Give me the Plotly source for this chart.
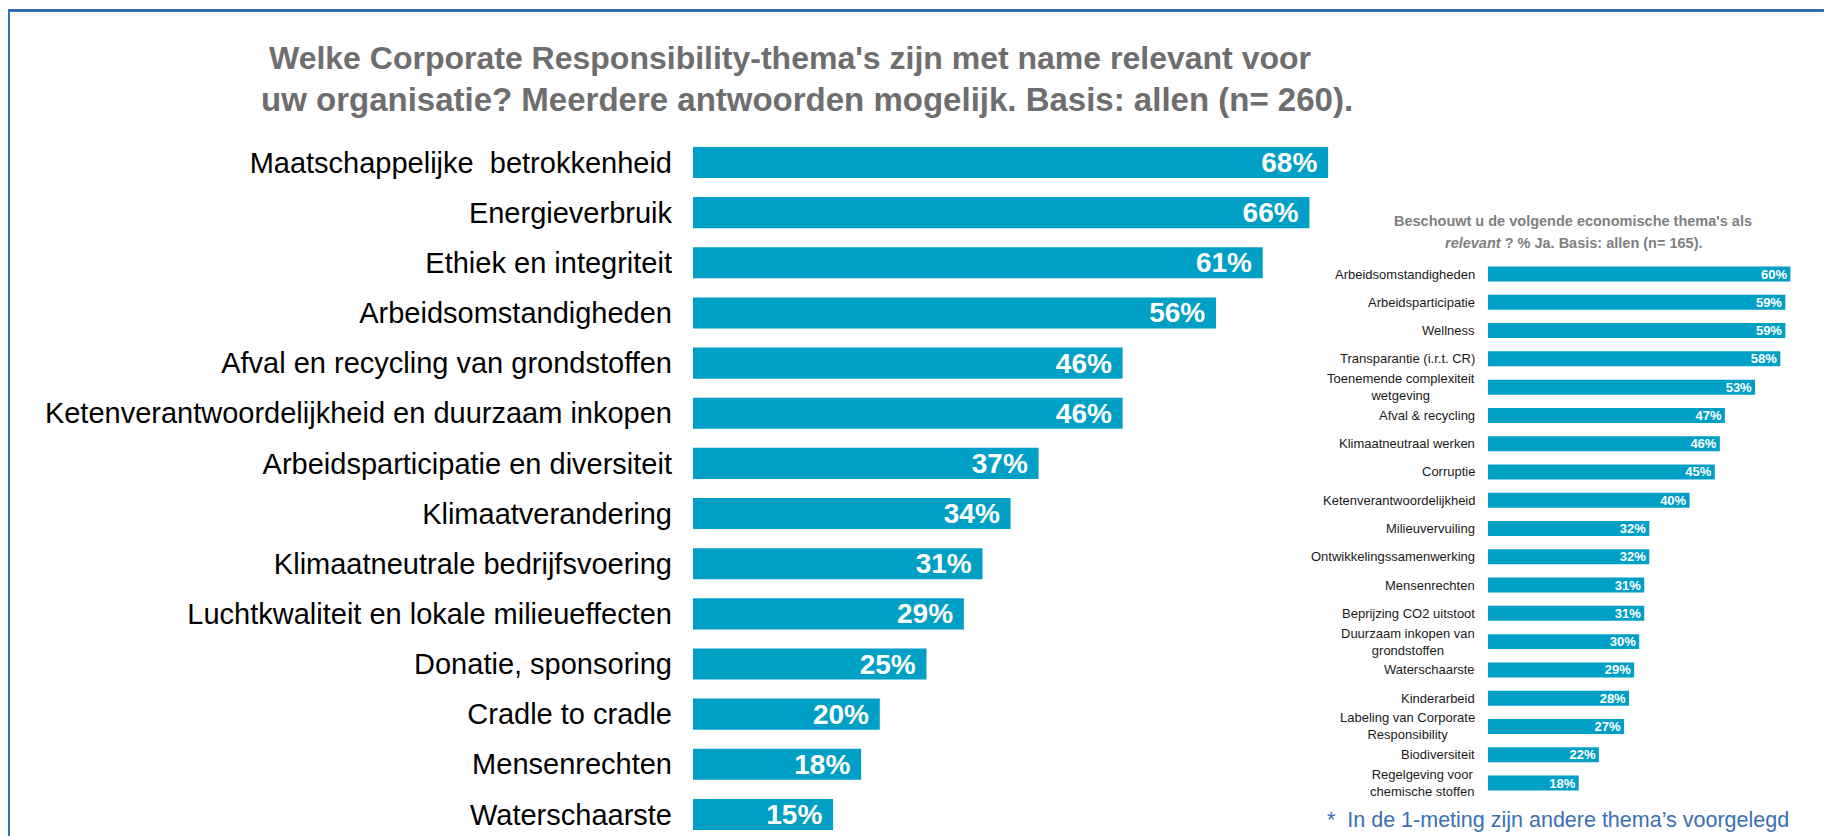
import plotly.graph_objects as go

# The page body keeps its default 8px margin, so the figure is laid out in
# page pixels and shifted by that margin.
PAGE_W, PAGE_H = 1832, 836
OFF = 8
W, H = PAGE_W - OFF, PAGE_H - OFF

# ---------------- data ----------------
main_categories = [
    "Maatschappelijke  betrokkenheid",
    "Energieverbruik",
    "Ethiek en integriteit",
    "Arbeidsomstandigheden",
    "Afval en recycling van grondstoffen",
    "Ketenverantwoordelijkheid en duurzaam inkopen",
    "Arbeidsparticipatie en diversiteit",
    "Klimaatverandering",
    "Klimaatneutrale bedrijfsvoering",
    "Luchtkwaliteit en lokale milieueffecten",
    "Donatie, sponsoring",
    "Cradle to cradle",
    "Mensenrechten",
    "Waterschaarste",
]
main_values = [68, 66, 61, 56, 46, 46, 37, 34, 31, 29, 25, 20, 18, 15]

side_categories = [
    "Arbeidsomstandigheden",
    "Arbeidsparticipatie",
    "Wellness",
    "Transparantie (i.r.t. CR)",
    "Toenemende complexiteit wetgeving",
    "Afval & recycling",
    "Klimaatneutraal werken",
    "Corruptie",
    "Ketenverantwoordelijkheid",
    "Milieuvervuiling",
    "Ontwikkelingssamenwerking",
    "Mensenrechten",
    "Beprijzing CO2 uitstoot",
    "Duurzaam inkopen van grondstoffen",
    "Waterschaarste",
    "Kinderarbeid",
    "Labeling van Corporate Responsibility",
    "Biodiversiteit",
    "Regelgeving voor chemische stoffen",
]
side_labels = [
    "Arbeidsomstandigheden",
    "Arbeidsparticipatie",
    "Wellness",
    "Transparantie (i.r.t. CR)",
    "Toenemende complexiteit<br>wetgeving",
    "Afval & recycling",
    "Klimaatneutraal werken",
    "Corruptie",
    "Ketenverantwoordelijkheid",
    "Milieuvervuiling",
    "Ontwikkelingssamenwerking",
    "Mensenrechten",
    "Beprijzing CO2 uitstoot",
    "Duurzaam inkopen van<br>grondstoffen",
    "Waterschaarste",
    "Kinderarbeid",
    "Labeling van Corporate<br>Responsibility",
    "Biodiversiteit",
    "Regelgeving voor<br>chemische stoffen",
]
side_values = [60, 59, 59, 58, 53, 47, 46, 45, 40, 32, 32, 31, 31, 30, 29, 28, 27, 22, 18]

main_title = [
    "Welke Corporate Responsibility-thema's zijn met name relevant voor",
    "uw organisatie? Meerdere antwoorden mogelijk. Basis: allen (n= 260).",
]
side_title = [
    "Beschouwt u de volgende economische thema's als",
    "<i>relevant</i> ? % Ja. Basis: allen (n= 165).",
]
footnote = "*\u00a0\u00a0In de 1-meting zijn andere thema\u2019s voorgelegd"

# ---------------- style ----------------
BAR = "#00A0C6"
FONT = "Liberation Sans, Arial, sans-serif"
FRAME = "#2E6DB4"


def px_x(p):
    """page x pixel -> paper fraction"""
    return (p - OFF) / W


def px_y(p):
    """page y pixel -> paper fraction"""
    return 1 - (p - OFF) / H


fig = go.Figure()

fig.add_trace(go.Bar(
    x=main_values, y=main_categories, orientation="h",
    marker=dict(color=BAR, line=dict(width=0)),
    width=0.62,
    text=[f"<b>{v}%</b>\u00a0" for v in main_values],
    textposition="inside", insidetextanchor="end",
    textfont=dict(family=FONT, size=28, color="white"),
    constraintext="none",
    xaxis="x", yaxis="y", hoverinfo="skip", showlegend=False,
))

fig.add_trace(go.Bar(
    x=side_values, y=side_categories, orientation="h",
    marker=dict(color=BAR, line=dict(width=0)),
    width=0.53,
    text=[f"<b>{v}%</b>" for v in side_values],
    textposition="inside", insidetextanchor="end",
    textfont=dict(family=FONT, size=13, color="white"),
    constraintext="none",
    xaxis="x2", yaxis="y2", hoverinfo="skip", showlegend=False,
))

# main axes: 0% at page x=693px, 9.34 px per percent
main_x0 = 693
main_ppp = 9.34
main_xmax = 70
main_row = 50.15
main_first = 162.5
main_n = len(main_categories)
main_bottom_idx = (main_n - 1) + (PAGE_H - (main_first + (main_n - 1) * main_row)) / main_row
fig.update_layout(
    xaxis=dict(domain=[px_x(main_x0), px_x(main_x0 + main_ppp * main_xmax)],
               range=[0, main_xmax], visible=False, fixedrange=True),
    yaxis=dict(domain=[0, px_y(main_first - main_row / 2)],
               range=[main_bottom_idx, -0.5],
               categoryorder="array", categoryarray=main_categories,
               showgrid=False, zeroline=False, showline=False, ticks="",
               ticklabelstandoff=20,
               tickfont=dict(family=FONT, size=29, color="#000000"),
               anchor="x"),
)

side_x0 = 1488
side_ppp = 5.04
side_xmax = 65
fig.update_layout(
    xaxis2=dict(domain=[px_x(side_x0), px_x(side_x0 + side_ppp * side_xmax)],
                range=[0, side_xmax], visible=False, anchor="y2"),
    yaxis2=dict(domain=[px_y(800), px_y(259.9)], range=[18.601, -0.5],
                categoryorder="array", categoryarray=side_categories,
                showticklabels=False, showgrid=False, zeroline=False,
                showline=False, ticks="", anchor="x2"),
)

annotations = []
for cat, lab in zip(side_categories, side_labels):
    annotations.append(dict(
        x=0, xref="x2", y=cat, yref="y2", xanchor="right", yanchor="middle",
        xshift=-11, text=lab, showarrow=False, align="center",
        font=dict(family=FONT, size=13, color="#1a1a1a"),
    ))

annotations.append(dict(x=px_x(790), y=px_y(58), xref="paper", yref="paper",
                        xanchor="center", yanchor="middle", showarrow=False,
                        text=f"<b>{main_title[0]}</b>",
                        font=dict(family=FONT, size=32, color="#6e6e6e")))
annotations.append(dict(x=px_x(807), y=px_y(99), xref="paper", yref="paper",
                        xanchor="center", yanchor="middle", showarrow=False,
                        text=f"<b>{main_title[1]}</b>",
                        font=dict(family=FONT, size=33, color="#6e6e6e")))
annotations.append(dict(x=px_x(1573), y=px_y(221.5), xref="paper", yref="paper",
                        xanchor="center", yanchor="middle", showarrow=False,
                        text=f"<b>{side_title[0]}</b>",
                        font=dict(family=FONT, size=14.5, color="#808080")))
annotations.append(dict(x=px_x(1574), y=px_y(242.5), xref="paper", yref="paper",
                        xanchor="center", yanchor="middle", showarrow=False,
                        text=f"<b>{side_title[1]}</b>",
                        font=dict(family=FONT, size=14.5, color="#808080")))
annotations.append(dict(x=px_x(1325), y=px_y(820), xref="paper", yref="paper",
                        xanchor="left", yanchor="middle", showarrow=False,
                        text=footnote,
                        font=dict(family=FONT, size=21.5, color="#3A70B3")))

# frame: top and left edges only
shapes = [
    dict(type="line", xref="paper", yref="paper",
         x0=px_x(7), x1=1.02, y0=px_y(10.5), y1=px_y(10.5),
         line=dict(color=FRAME, width=3)),
    dict(type="line", xref="paper", yref="paper",
         x0=0.0005, x1=0.0005, y0=-0.02, y1=px_y(9),
         line=dict(color=FRAME, width=2)),
]

fig.update_layout(
    width=W, height=H, autosize=False,
    margin=dict(l=0, r=0, t=0, b=0, pad=0),
    paper_bgcolor="white", plot_bgcolor="white",
    bargap=0.3,
    annotations=annotations, shapes=shapes,
    showlegend=False,
)

fig.write_html("out.html", config={"displayModeBar": False})
